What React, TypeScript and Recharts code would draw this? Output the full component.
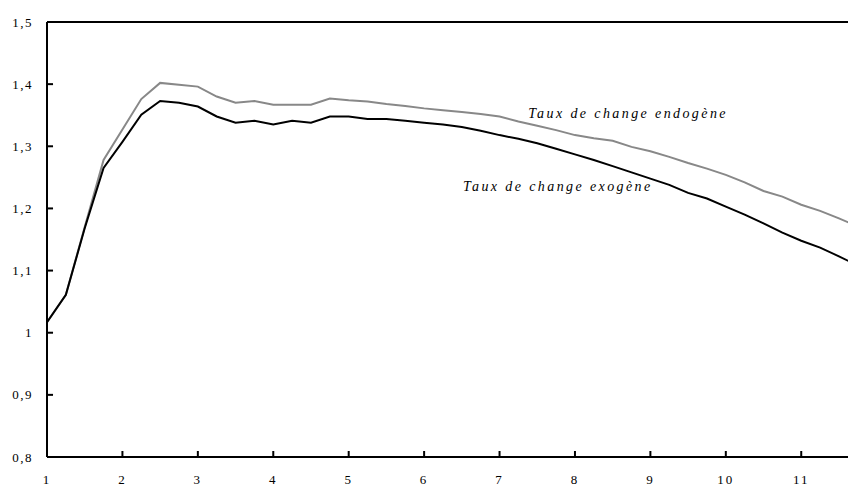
import React from "react";
import { LineChart, Line, XAxis, YAxis, ReferenceLine, ReferenceDot } from "recharts";

const quarters = [
  1, 1.25, 1.5, 1.75, 2, 2.25, 2.5, 2.75, 3, 3.25, 3.5, 3.75, 4, 4.25, 4.5, 4.75,
  5, 5.25, 5.5, 5.75, 6, 6.25, 6.5, 6.75, 7, 7.25, 7.5, 7.75, 8, 8.25, 8.5, 8.75,
  9, 9.25, 9.5, 9.75, 10, 10.25, 10.5, 10.75, 11, 11.25, 11.5, 11.75,
];

const endogene = [
  1.017, 1.061, 1.170, 1.278, 1.327, 1.376, 1.402, 1.399, 1.396, 1.380, 1.370, 1.373,
  1.367, 1.367, 1.367, 1.377, 1.374, 1.372, 1.368, 1.365, 1.361, 1.358, 1.355, 1.352,
  1.348, 1.340, 1.333, 1.326, 1.318, 1.313, 1.309, 1.299, 1.292, 1.283, 1.273, 1.264,
  1.254, 1.242, 1.228, 1.219, 1.206, 1.196, 1.184, 1.171,
];

const exogene = [
  1.017, 1.061, 1.168, 1.265, 1.307, 1.351, 1.373, 1.370, 1.364, 1.348, 1.338, 1.341,
  1.335, 1.341, 1.338, 1.348, 1.348, 1.344, 1.344, 1.341, 1.338, 1.335, 1.331, 1.325,
  1.318, 1.312, 1.305, 1.296, 1.287, 1.278, 1.268, 1.258, 1.248, 1.238, 1.225, 1.216,
  1.203, 1.190, 1.176, 1.161, 1.148, 1.137, 1.123, 1.108,
];

const xTicks = [1, 2, 3, 4, 5, 6, 7, 8, 9, 10, 11];
const yTicks = [0.8, 0.9, 1.0, 1.1, 1.2, 1.3, 1.4, 1.5];
const X_MIN = 1;
const Y_MIN = 0.8;

const labelEndo = "Taux de change endogène";
const labelExo = "Taux de change exogène";

const data = quarters.map((q, i) => ({ q, endo: endogene[i], exo: exogene[i] }));

const FONT = "'Liberation Serif', 'Times New Roman', serif";
const Y_MARGIN = 14;
const X_MARGIN = 18;
// inward tick mark lengths expressed in axis units (~6px)
const X_TICK_UNITS = 0.0097;
const Y_TICK_UNITS = 0.08;

const fmtY = (v: number) => String(+v.toFixed(1)).replace(".", ",");

function YTick(props: any) {
  const { x, y, payload } = props;
  return (
    <text x={x} y={y} dy="0.355em" textAnchor="end" fontFamily={FONT} fontSize={13} letterSpacing={1.5} fill="#000">
      {fmtY(payload.value)}
    </text>
  );
}

function XTick(props: any) {
  const { x, y, payload } = props;
  return (
    <text x={x} y={y} dy="0.71em" textAnchor="middle" fontFamily={FONT} fontSize={13} letterSpacing={2} fill="#000">
      {String(payload.value)}
    </text>
  );
}

const makeLabel = (text: string) => (props: any) => {
  const vb = props.viewBox || {};
  const x = vb.x + (vb.width || 0) / 2;
  const y = vb.y + (vb.height || 0) / 2;
  return (
    <text x={x} y={y} fontFamily={FONT} fontSize={14} fontStyle="italic" letterSpacing={2.4} fill="#000">
      {text}
    </text>
  );
};

export default function App() {
  return (
    <div style={{ position: "fixed", left: 0, top: 0, width: 848, height: 488, background: "#fff" }}>
      <LineChart width={848} height={488} data={data} margin={{ top: 22, right: 0, bottom: 0, left: 0 }}>
        <XAxis
          dataKey="q"
          type="number"
          domain={[1, 11.62]}
          allowDataOverflow
          ticks={xTicks}
          tickLine={false}
          tickSize={0}
          tickMargin={X_MARGIN}
          tick={XTick}
          height={31}
          axisLine={{ stroke: "#000", strokeWidth: 2 }}
        />
        <YAxis
          type="number"
          domain={[0.8, 1.5]}
          ticks={yTicks}
          tickLine={false}
          tickSize={0}
          tickMargin={Y_MARGIN}
          tick={YTick}
          width={47}
          axisLine={{ stroke: "#000", strokeWidth: 2 }}
        />
        <ReferenceLine y={1.5} stroke="#000" strokeWidth={2} />
        {xTicks.map((t) => (
          <ReferenceLine
            key={"xt" + t}
            segment={[{ x: t, y: Y_MIN }, { x: t, y: Y_MIN + X_TICK_UNITS }]}
            stroke="#000"
            strokeWidth={2}
            ifOverflow="visible"
          />
        ))}
        {yTicks.map((t) => (
          <ReferenceLine
            key={"yt" + t}
            segment={[{ x: X_MIN, y: t }, { x: X_MIN + Y_TICK_UNITS, y: t }]}
            stroke="#000"
            strokeWidth={2}
            ifOverflow="visible"
          />
        ))}
        <Line type="linear" dataKey="endo" stroke="#888888" strokeWidth={2} dot={false} isAnimationActive={false} />
        <Line type="linear" dataKey="exo" stroke="#000000" strokeWidth={2} dot={false} isAnimationActive={false} />
        <ReferenceDot x={7.38} y={1.346} r={0} fill="none" stroke="none" label={makeLabel(labelEndo)} />
        <ReferenceDot x={6.517} y={1.228} r={0} fill="none" stroke="none" label={makeLabel(labelExo)} />
      </LineChart>
    </div>
  );
}
